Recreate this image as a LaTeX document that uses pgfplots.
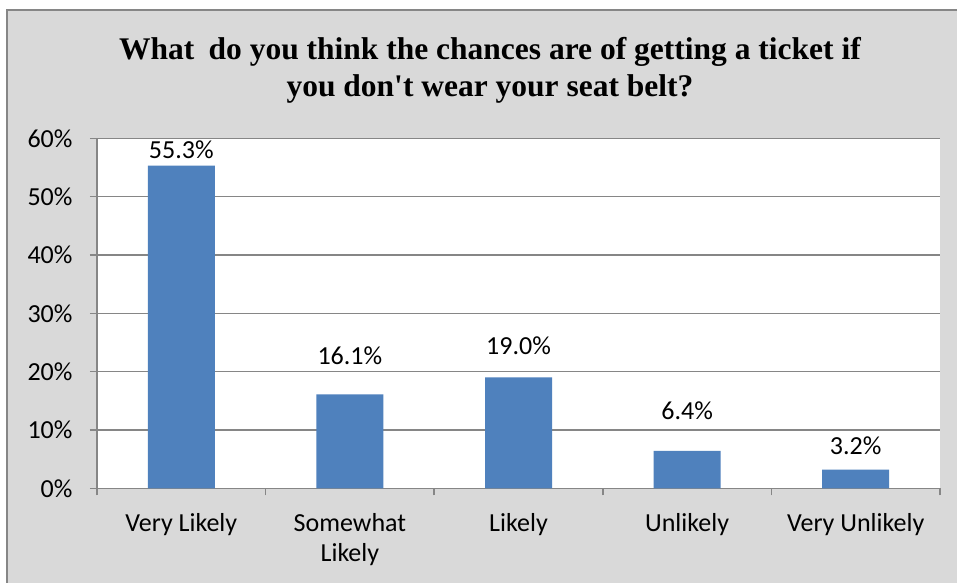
\documentclass[border=0pt]{standalone}
\usepackage{fontspec}
\setmainfont{Carlito}
\newfontfamily\titlefont{Liberation Serif}
\usepackage{pgfplots}
\usepackage{pgfplotstable}
\pgfplotsset{compat=1.18}
\definecolor{bg}{HTML}{D9D9D9}
\definecolor{framec}{HTML}{868686}
\definecolor{gridc}{HTML}{868686}
\definecolor{barc}{HTML}{4F81BD}
\pgfplotstableread{
x y off
0 55.3 7
1 16.1 30
2 19.0 23
3 6.4 31
4 3.2 15
}\datatable
\begin{document}
\begin{tikzpicture}
\useasboundingbox (0pt,0pt) rectangle (957pt,-582pt);
\fill[white] (0pt,0pt) rectangle (957pt,-582pt);
\filldraw[fill=bg, draw=framec, line width=2pt] (6.5pt,-10pt) rectangle (990pt,-600pt);
\node[anchor=base, inner sep=0pt, font=\titlefont\bfseries\fontsize{31.5}{37}\selectfont] at (490pt,-59pt) {What\hspace{0.45em}do you think the chances are of getting a ticket if};
\node[anchor=base, inner sep=0pt, font=\titlefont\bfseries\fontsize{31.5}{37}\selectfont] at (490pt,-96pt) {you don't wear your seat belt?};
\begin{axis}[
  at={(97pt,-488.3pt)}, anchor=south west,
  scale only axis, width=843pt, height=350pt,
  xmin=-0.5, xmax=4.5, ymin=0, ymax=60,
  axis lines*=left,
  axis line style={draw=gridc, line width=1.5pt},
  axis background/.style={fill=white},
  ymajorgrids, grid style={draw=gridc, line width=1.5pt},
  tick align=outside, major tick length=7pt,
  tick style={draw=gridc, line width=1.5pt},
  ytick={0,10,...,60},
  yticklabels={0\%,10\%,20\%,30\%,40\%,50\%,60\%},
  yticklabel style={anchor=east, xshift=-14pt},
  xtick={-0.5,0.5,...,4.5}, xticklabels={},
  extra x ticks={0,1,2,3,4},
  extra x tick labels={Very Likely, Somewhat\\Likely, Likely, Unlikely, Very Unlikely},
  extra x tick style={major tick length=0pt, grid=none},
  xticklabel style={align=center, anchor=north, inner sep=0pt, yshift=-25pt},
  tick label style={font=\fontsize{26}{30}\selectfont, text=black},
  /pgf/number format/assume math mode=true,
  ybar, bar width=67pt,
  nodes near coords={\pgfmathprintnumber[fixed,fixed zerofill,precision=1]{\pgfplotspointmeta}\%},
  visualization depends on={\thisrow{off} \as \off},
  every node near coord/.append style={anchor=base, yshift=\off pt, font=\fontsize{26}{30}\selectfont, text=black},
  clip=false,
]
\addplot[fill=barc, draw=none, point meta=explicit] table[x=x, y=y, meta=y] {\datatable};
\end{axis}
\end{tikzpicture}
\end{document}
